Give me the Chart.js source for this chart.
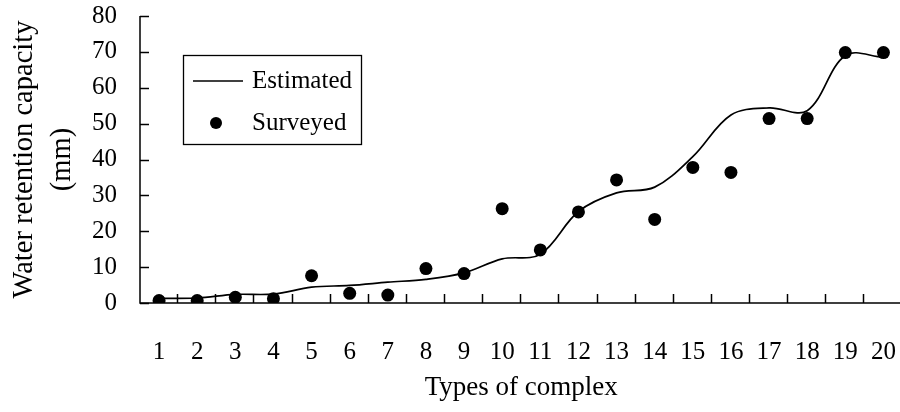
<!DOCTYPE html>
<html>
<head>
<meta charset="utf-8">
<script src="https://cdn.jsdelivr.net/npm/chart.js@4/dist/chart.umd.min.js"></script>
<style>
  html, body { margin: 0; padding: 0; background: #fff; overflow: hidden; }
  #wrap { width: 900px; height: 412px; overflow: hidden; }
</style>
</head>
<body>
<!-- canvas a bit wider than the window: Chart.js keeps ~8px spare on the right, the reference axis runs to the edge -->
<div id="wrap"><canvas id="myChart" width="909" height="412"></canvas></div>
<script>
// data
const categories = ['1','2','3','4','5','6','7','8','9','10','11','12','13','14','15','16','17','18','19','20']
const estimated = [1.3, 1.4, 2.4, 2.5, 4.4, 4.9, 5.8, 6.6, 8.4, 12.3, 13.6, 25.5, 30.7, 32.3, 40.8, 52.4, 54.4, 53.6, 69, 68.5]
const surveyed = [0.7, 0.7, 1.6, 1.2, 7.6, 2.7, 2.2, 9.6, 8.2, 26.3, 14.8, 25.4, 34.3, 23.3, 37.8, 36.4, 51.4, 51.4, 69.8, 69.8]
const yTicks = [0, 10, 20, 30, 40, 50, 60, 70, 80]

const serif = '"Liberation Serif", "Times New Roman", serif'

// inward tick marks, axis lines and the boxed legend
const extras = {
  id: 'extras',
  afterDraw(chart) {
    const c = chart.ctx
    const x = chart.scales.x
    const y = chart.scales.y
    const area = chart.chartArea
    c.save()
    c.strokeStyle = '#000'
    c.lineWidth = 1.5
    c.beginPath()
    c.moveTo(area.left, area.top)
    c.lineTo(area.left, area.bottom)
    c.lineTo(area.right, area.bottom)
    c.stroke()
    yTicks.forEach(v => {
      const py = Math.round(y.getPixelForValue(v)) + 0.5
      c.beginPath()
      c.moveTo(area.left, py)
      c.lineTo(area.left + 9, py)
      c.stroke()
    })
    const half = x.width / categories.length / 2
    for (let i = 0; i < categories.length; i++) {
      const px = Math.round(x.getPixelForValue(i) + half) - 0.5
      c.beginPath()
      c.moveTo(px, area.bottom)
      c.lineTo(px, area.bottom - 9)
      c.stroke()
    }
    // legend
    const lx = 183, ly = 55, lw = 178, lh = 89
    c.fillStyle = '#fff'
    c.fillRect(lx, ly, lw, lh)
    c.lineWidth = 1.3
    c.strokeRect(lx + 0.5, ly + 0.5, lw, lh)
    c.lineWidth = 1.6
    c.beginPath()
    c.moveTo(193, 81)
    c.lineTo(243, 81)
    c.stroke()
    c.fillStyle = '#000'
    c.beginPath()
    c.arc(216, 123, 6, 0, Math.PI * 2)
    c.fill()
    c.font = '25px ' + serif
    c.textBaseline = 'middle'
    c.textAlign = 'left'
    c.fillText(chart.data.datasets[0].label, 252, 81)
    c.fillText(chart.data.datasets[1].label, 252, 123)
    c.restore()
  }
}

const ctx = document.getElementById('myChart').getContext('2d')
const chart = new Chart(ctx, {
  type: 'line',
  data: {
    labels: categories,
    datasets: [
      {
        label: 'Estimated',
        data: estimated,
        borderColor: '#000',
        borderWidth: 1.7,
        pointRadius: 0,
        tension: 0.35,
        fill: false
      },
      {
        label: 'Surveyed',
        data: surveyed,
        showLine: false,
        pointRadius: 6.5,
        pointBackgroundColor: '#000',
        pointBorderColor: '#000',
        pointBorderWidth: 0
      }
    ]
  },
  options: {
    responsive: false,
    animation: false,
    layout: { padding: { top: 16, right: 0, left: 0, bottom: 0 } },
    plugins: {
      legend: { display: false },
      tooltip: { enabled: false }
    },
    scales: {
      x: {
        offset: true,
        grid: { display: false, drawTicks: false },
        border: { display: false },
        ticks: {
          color: '#000',
          font: { family: serif, size: 25 },
          padding: 34,
          maxRotation: 0,
          autoSkip: false
        },
        title: {
          display: true,
          text: 'Types of complex',
          color: '#000',
          font: { family: serif, size: 27 },
          padding: { top: 4, bottom: 8 }
        },
        afterFit(scale) {
          scale.height = 109
          scale.paddingLeft = 0
          scale.paddingRight = 0
        }
      },
      y: {
        min: 0,
        max: 80,
        grid: { display: false, drawTicks: false },
        border: { display: false },
        ticks: {
          stepSize: 10,
          color: '#000',
          font: { family: serif, size: 25 },
          padding: 23
        },
        title: {
          display: true,
          text: ['Water retention capacity', '(mm)'],
          color: '#000',
          font: { family: serif, size: 28.5, lineHeight: 1.33 },
          padding: { top: 6, bottom: 0 }
        },
        afterFit(scale) {
          scale.width = 140
          scale.paddingTop = 0
          scale.paddingBottom = 0
        }
      }
    }
  },
  plugins: [extras]
})
</script>
</body>
</html>
